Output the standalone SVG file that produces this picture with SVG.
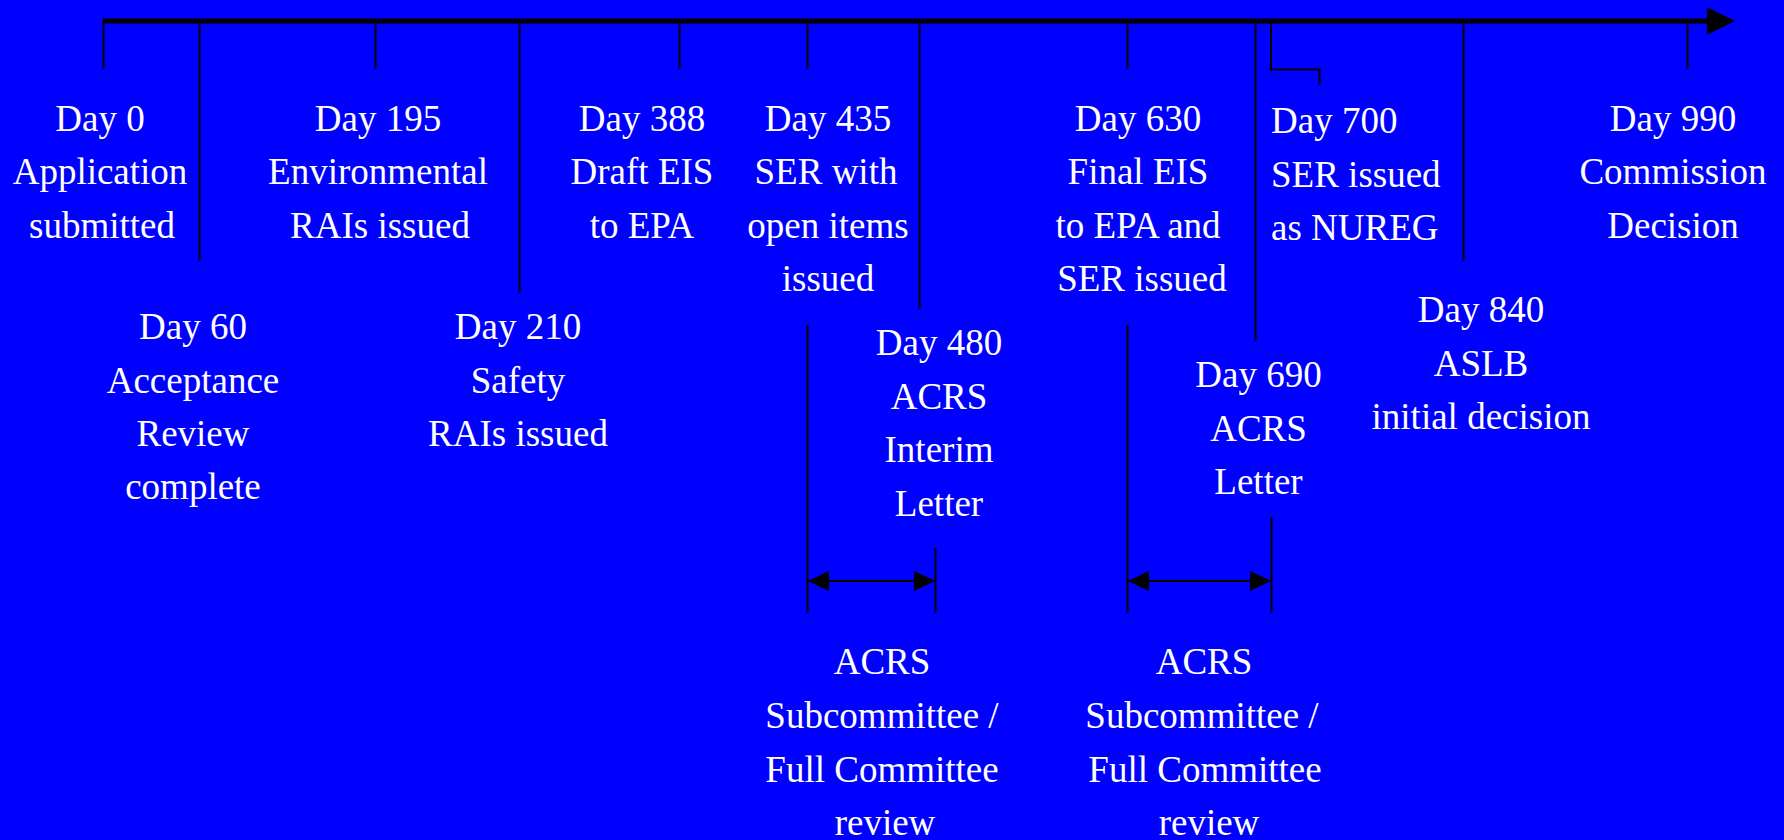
<svg xmlns="http://www.w3.org/2000/svg" width="1784" height="840" viewBox="0 0 1784 840">
<style>
.t{font-family:"Liberation Serif","Times New Roman",serif;font-size:37px;fill:#fff;text-anchor:middle}
.s{text-anchor:start}
.k{stroke:#000;stroke-width:2;fill:none}
.r{stroke:#000;stroke-width:2;fill:none;marker-start:url(#ah);marker-end:url(#ah)}
</style>
<defs>
<marker id="ah" viewBox="0 0 21 20" refX="21" refY="10" markerWidth="21" markerHeight="20" markerUnits="userSpaceOnUse" orient="auto-start-reverse">
<path d="M0,0 L21,10 L0,20 Z" fill="#000"/>
</marker>
</defs>
<rect width="1784" height="840" fill="#0000FF"/>
<g id="connectors">
<line x1="103" y1="21" x2="1710" y2="21" stroke="#000" stroke-width="5"/>
<polygon points="1707,7.3 1735,21 1707,34.7" fill="#000"/>
<line class="k" x1="103.5" y1="21" x2="103.5" y2="69"/>
<line class="k" x1="199.5" y1="21" x2="199.5" y2="261"/>
<line class="k" x1="375.5" y1="21" x2="375.5" y2="69"/>
<line class="k" x1="519.5" y1="21" x2="519.5" y2="293"/>
<line class="k" x1="679.5" y1="21" x2="679.5" y2="69"/>
<line class="k" x1="807.5" y1="21" x2="807.5" y2="69"/>
<line class="k" x1="919.5" y1="21" x2="919.5" y2="309"/>
<line class="k" x1="1127.5" y1="21" x2="1127.5" y2="69"/>
<line class="k" x1="1255.5" y1="21" x2="1255.5" y2="341"/>
<polyline class="k" points="1271,21 1271,69.5 1319.5,69.5 1319.5,85"/>
<line class="k" x1="1463.5" y1="21" x2="1463.5" y2="261"/>
<line class="k" x1="1687.5" y1="21" x2="1687.5" y2="69"/>
<line class="k" x1="807.5" y1="325" x2="807.5" y2="613"/>
<line class="k" x1="935.5" y1="548" x2="935.5" y2="613"/>
<line class="r" x1="808" y1="581" x2="935" y2="581"/>
<line class="k" x1="1127.5" y1="325" x2="1127.5" y2="613"/>
<line class="k" x1="1271.5" y1="517" x2="1271.5" y2="613"/>
<line class="r" x1="1128" y1="581" x2="1271" y2="581"/>
</g>
<g id="day0"><text class="t"><tspan x="100" y="131">Day 0</tspan><tspan x="100" y="184">Application</tspan><tspan x="102" y="237.5">submitted</tspan></text></g>
<g id="day60"><text class="t"><tspan x="193" y="339">Day 60</tspan><tspan x="193" y="392.5">Acceptance</tspan><tspan x="193" y="445.5">Review</tspan><tspan x="193" y="499">complete</tspan></text></g>
<g id="day195"><text class="t"><tspan x="378" y="131">Day 195</tspan><tspan x="378" y="184">Environmental</tspan><tspan x="380" y="237.5">RAIs issued</tspan></text></g>
<g id="day210"><text class="t"><tspan x="518" y="339">Day 210</tspan><tspan x="518" y="392.5">Safety</tspan><tspan x="518" y="445.5">RAIs issued</tspan></text></g>
<g id="day388"><text class="t"><tspan x="642" y="131">Day 388</tspan><tspan x="642" y="184">Draft EIS</tspan><tspan x="642" y="237.5">to EPA</tspan></text></g>
<g id="day435"><text class="t"><tspan x="828" y="131">Day 435</tspan><tspan x="826" y="184">SER with</tspan><tspan x="828" y="237.5">open items</tspan><tspan x="828" y="291">issued</tspan></text></g>
<g id="day480"><text class="t"><tspan x="939" y="355">Day 480</tspan><tspan x="939" y="408.5">ACRS</tspan><tspan x="939" y="462">Interim</tspan><tspan x="939" y="515.5">Letter</tspan></text></g>
<g id="day630"><text class="t"><tspan x="1138" y="131">Day 630</tspan><tspan x="1138" y="184">Final EIS</tspan><tspan x="1138" y="237.5">to EPA and</tspan><tspan x="1142" y="291">SER issued</tspan></text></g>
<g id="day690"><text class="t"><tspan x="1258.5" y="386.5">Day 690</tspan><tspan x="1258.5" y="440.5">ACRS</tspan><tspan x="1258.5" y="493.5">Letter</tspan></text></g>
<g id="day700"><text class="t s"><tspan x="1271" y="133">Day 700</tspan><tspan x="1271" y="186.5">SER issued</tspan><tspan x="1271" y="240">as NUREG</tspan></text></g>
<g id="day840"><text class="t"><tspan x="1481" y="322">Day 840</tspan><tspan x="1481" y="376">ASLB</tspan><tspan x="1481" y="429">initial decision</tspan></text></g>
<g id="day990"><text class="t"><tspan x="1673" y="131">Day 990</tspan><tspan x="1673" y="184">Commission</tspan><tspan x="1673" y="237.5">Decision</tspan></text></g>
<g id="acrs1"><text class="t"><tspan x="882" y="674">ACRS</tspan><tspan x="882" y="728">Subcommittee /</tspan><tspan x="882" y="781.5">Full Committee</tspan><tspan x="885" y="835">review</tspan></text></g>
<g id="acrs2"><text class="t"><tspan x="1204" y="674">ACRS</tspan><tspan x="1202" y="728">Subcommittee /</tspan><tspan x="1205" y="781.5">Full Committee</tspan><tspan x="1209" y="835">review</tspan></text></g>
</svg>
